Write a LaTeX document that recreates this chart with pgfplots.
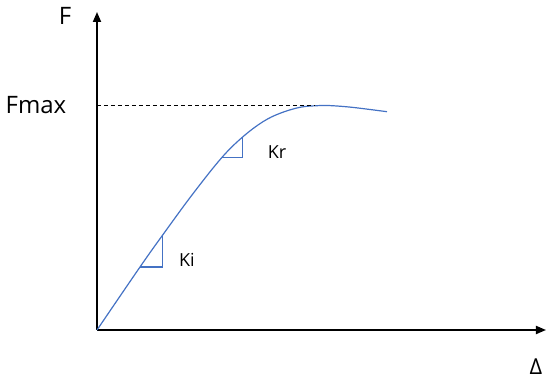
\documentclass[border=0pt]{standalone}
\usepackage{fontspec}
\setmainfont{Open Sans}
\usepackage{pgfplots}
\pgfplotsset{compat=1.18}
\usetikzlibrary{arrows.meta}
\definecolor{curve}{HTML}{4472C4}

\begin{document}
\begin{tikzpicture}
\path[use as bounding box] (-97pt,-50pt) rectangle (453pt,330pt);
\begin{axis}[
  x=1pt,y=1pt,
  xmin=0,xmax=449,ymin=0,ymax=318,
  axis lines=left,
  axis line style={line width=1.8pt,-{Triangle[length=10pt,width=8pt]}},
  ticks=none,
  clip=false]
% load-displacement curve
\addplot[color=curve,line width=1.2pt,smooth,tension=0.6]
  coordinates{(0,0)(43,63)(65.7,95)(95,135)(124.7,172.3)(146,193.3)(166,208.3)
  (183,216.7)(203,222.7)(220,224.3)(233,224.4)(253,222.9)(273,220.5)(290,218.3)};
% Fmax level
\addplot[black,dash pattern=on 4pt off 3pt,line width=1pt] coordinates{(0,224.4)(218,224.4)};
% stiffness triangles
\addplot[color=curve,line width=1.1pt] coordinates{(43,63)(65.7,63)(65.7,95)};
\addplot[color=curve,line width=1.1pt] coordinates{(124.7,172.3)(145.7,172.3)(145.7,193.3)};
\node[font=\fontsize{18}{21}\selectfont] at (axis cs:90,70){Ki};
\node[font=\fontsize{18}{21}\selectfont] at (axis cs:180,178){Kr};
\node[font=\fontsize{24}{27}\selectfont] at (axis cs:-32,314){F};
\node[font=\fontsize{24}{27}\selectfont] at (axis cs:-61,225){Fmax};
\node[font=\fontsize{22}{25}\selectfont] at (axis cs:439,-37){Δ};
\end{axis}
\end{tikzpicture}
\end{document}
